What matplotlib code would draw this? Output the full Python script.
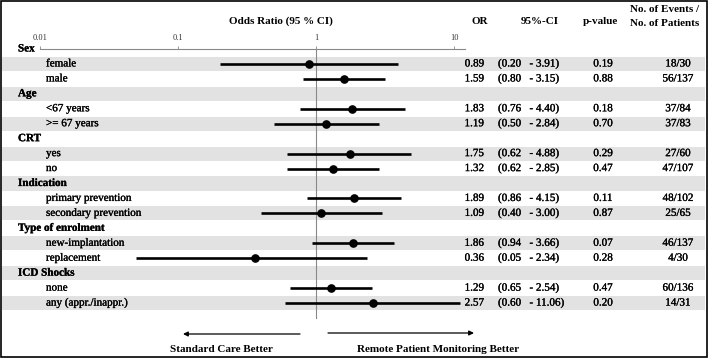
import numpy as np
import matplotlib
matplotlib.use("Agg")
import matplotlib.pyplot as plt
import matplotlib.patheffects as pe
from matplotlib.patches import Rectangle, FancyArrowPatch
from matplotlib.transforms import blended_transform_factory

plt.rcParams['font.family'] = ['Liberation Serif', 'DejaVu Serif']

# data
groups = ["Sex", "Age", "CRT", "Indication", "Type of enrolment", "ICD Shocks"]
labels = ["female", "male", "<67 years", ">= 67 years", "yes", "no",
          "primary prevention", "secondary prevention", "new-implantation",
          "replacement", "none", "any (appr./inappr.)"]
group_of = [0, 0, 1, 1, 2, 2, 3, 3, 4, 4, 5, 5]
or_vals = [0.89, 1.59, 1.83, 1.19, 1.75, 1.32, 1.89, 1.09, 1.86, 0.36, 1.29, 2.57]
ci_lo = [0.20, 0.80, 0.76, 0.50, 0.62, 0.62, 0.86, 0.40, 0.94, 0.05, 0.65, 0.60]
ci_hi = [3.91, 3.15, 4.40, 2.84, 4.88, 2.85, 4.15, 3.00, 3.66, 2.34, 2.54, 11.06]
p_vals = ["0.19", "0.88", "0.18", "0.70", "0.29", "0.47", "0.11", "0.87",
          "0.07", "0.28", "0.47", "0.20"]
events = ["18/30", "56/137", "37/84", "37/83", "27/60", "47/107", "48/102",
          "25/65", "46/137", "4/30", "60/136", "14/31"]
ticks = [0.01, 0.1, 1, 10]
tick_labels = ["0.01", "0.1", "1", "10"]

W, H = 708, 358
def fx(x):
    return x / W
def fy(y):
    return 1 - y / H

fig = plt.figure(figsize=(W / 100, H / 100), dpi=100)
# forest axes: top at y=49px, ~14.94 px per row, 18 rows
ax = fig.add_axes([fx(40), fy(318), 425 / W, 269 / H])
ax.set_xscale('log')
ax.set_xlim(0.01, 12)
ax.set_ylim(18, 0)
trans = blended_transform_factory(fig.transFigure, ax.transData)

# build row positions
row = 0
rows_sub = []
group_rows = []
for g in range(len(groups)):
    group_rows.append(row)
    row += 1
    for i in range(len(labels)):
        if group_of[i] == g:
            rows_sub.append(row)
            row += 1

# shaded bands on odd rows
for r in range(1, row, 2):
    ax.add_patch(Rectangle((fx(2), r - 0.47), fx(705) - fx(2), 0.94, transform=trans,
                           facecolor='#e2e2e2', edgecolor='none', clip_on=False, zorder=0))

# reference line at 1
ax.plot([1, 1], [0.1, 18], color='#888888', lw=0.8, zorder=1, clip_on=False)

# CI lines and points
for i, r in enumerate(rows_sub):
    ax.plot([ci_lo[i], ci_hi[i]], [r, r], color='black', lw=1.9, solid_capstyle='butt', zorder=2)
    ax.plot(or_vals[i], r, 'o', color='black', ms=5.2, zorder=3)

# axis styling
for s in ['left', 'right', 'bottom']:
    ax.spines[s].set_visible(False)
ax.spines['top'].set_color('#888888')
ax.spines['top'].set_linewidth(0.8)
ax.xaxis.set_ticks_position('top')
ax.set_xticks(ticks)
ax.set_xticklabels(tick_labels, fontsize=6, color='#333333')
ax.minorticks_off()
ax.tick_params(axis='x', direction='out', length=2, width=0.6, color='#888888', pad=3)
ax.set_yticks([])
ax.patch.set_alpha(0)

# slightly heavier look for the regular text
heavy = [pe.withStroke(linewidth=0.2, foreground='black')]
cell = dict(fontsize=8, va='center', transform=trans, path_effects=heavy)

# row labels and columns
for g, r in enumerate(group_rows):
    ax.text(fx(18), r, groups[g], transform=trans, ha='left', va='center',
            fontsize=8, fontweight='bold', path_effects=heavy)
for i, r in enumerate(rows_sub):
    ax.text(fx(46), r, labels[i], ha='left', **cell)
    ax.text(fx(484), r, "%.2f" % or_vals[i], ha='right', **cell)
    ax.text(fx(498), r, "(%.2f   - %.2f)" % (ci_lo[i], ci_hi[i]), ha='left', **cell)
    ax.text(fx(603), r, p_vals[i], ha='center', **cell)
    ax.text(fx(678), r, events[i], ha='center', **cell)

# headers
hdr = dict(fontsize=8, fontweight='bold', ha='center', va='center')
fig.text(fx(281), fy(21), "Odds Ratio (95 % CI)", **hdr)
fig.text(fx(480), fy(22), "OR", **hdr)
fig.text(fx(540), fy(22), "95%-CI", **hdr)
fig.text(fx(600), fy(22), "p-value", **hdr)
fig.text(fx(665), fy(10), "No. of Events /", **hdr)
fig.text(fx(665), fy(23), "No. of Patients", **hdr)

# direction arrows and labels
arrow = dict(arrowstyle='-|>', color='black', lw=0.9, mutation_scale=7, shrinkA=0, shrinkB=0)
fig.add_artist(FancyArrowPatch((fx(300), fy(334)), (fx(183), fy(334)),
                               transform=fig.transFigure, **arrow))
fig.add_artist(FancyArrowPatch((fx(328), fy(333)), (fx(474), fy(333)),
                               transform=fig.transFigure, **arrow))
fig.text(fx(221), fy(349), "Standard Care Better", **hdr)
fig.text(fx(438), fy(350), "Remote Patient Monitoring Better", **hdr)

# outer frame
fig.add_artist(Rectangle((fx(0.75), fy(357.25)), fx(706.5), 1 - fy(356.5),
                         transform=fig.transFigure, facecolor='none', edgecolor='black', lw=1.2))

fig.savefig("out.png", dpi=100)
